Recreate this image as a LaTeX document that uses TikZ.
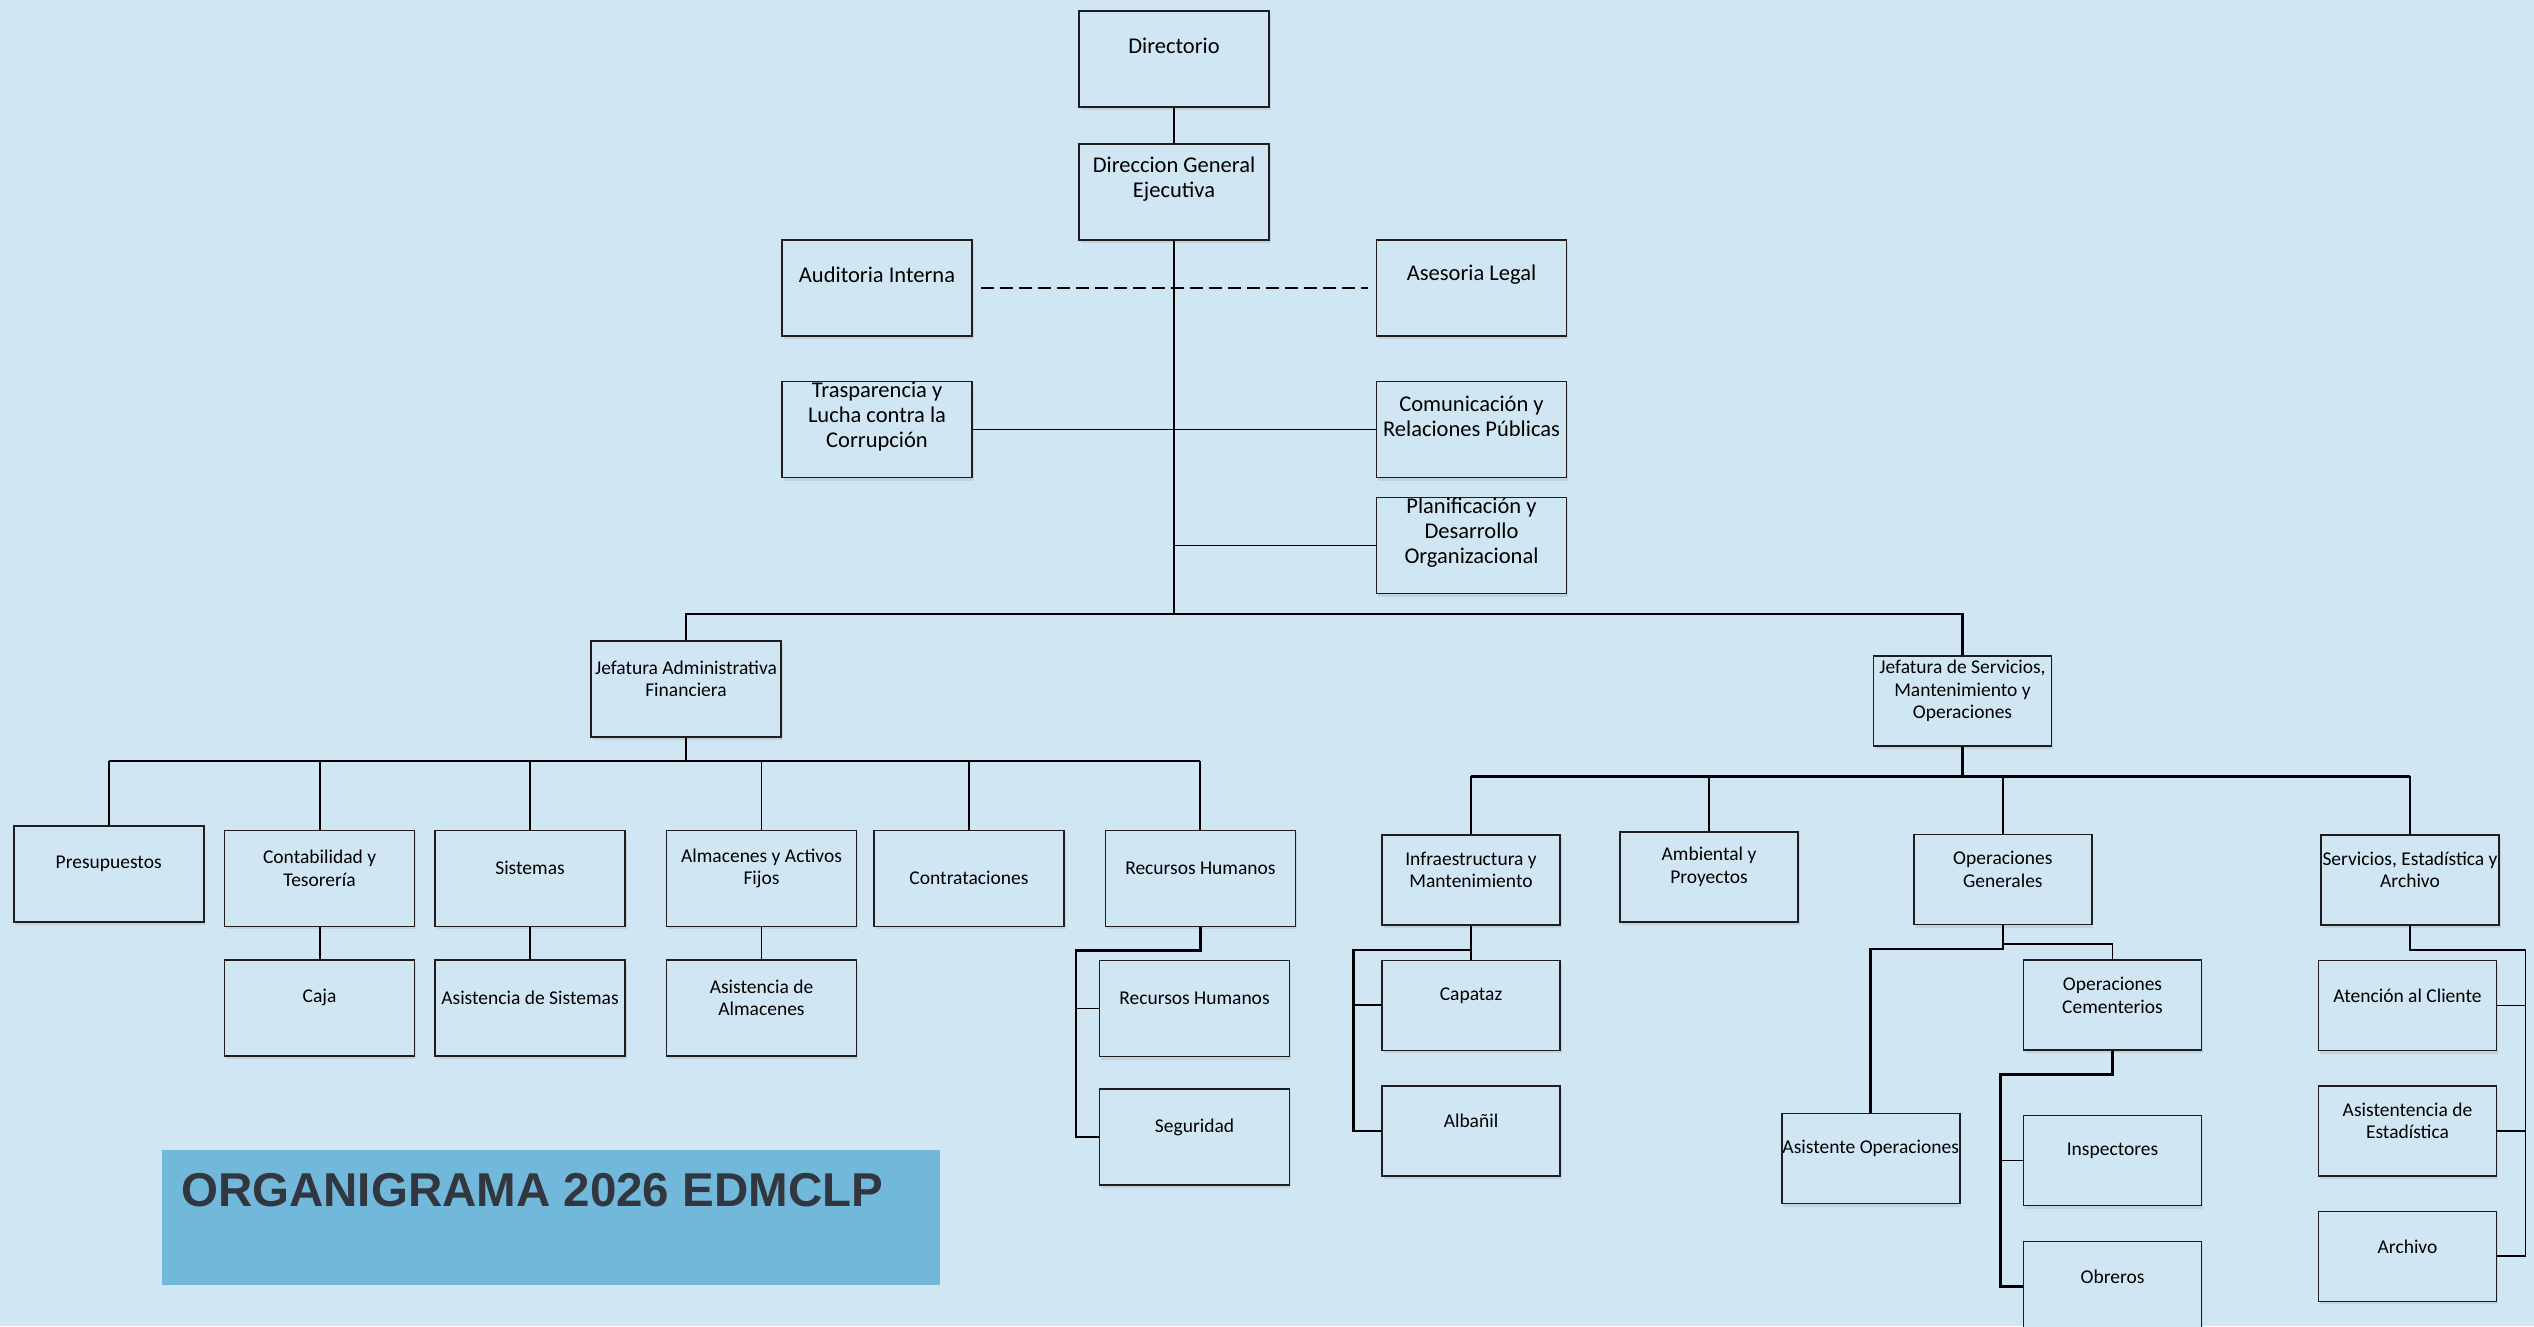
\documentclass[tikz,border=0pt]{standalone}
\usepackage{fontspec}
\setmainfont{Carlito}
\newfontfamily\bannerfont{Liberation Sans}
\usetikzlibrary{shadows}

\definecolor{paper}{HTML}{D0E7F3}
\definecolor{bannerblue}{HTML}{71B8DB}
\definecolor{bannerink}{HTML}{32373F}
\definecolor{boxline}{HTML}{1E1E1E}

\tikzset{
  unit/.style={draw=boxline, line width=1.6pt, fill=paper, inner sep=0pt,
    drop shadow={opacity=0.18, shadow xshift=1.5pt, shadow yshift=-3pt}},
  topbox/.style={unit, minimum width=190pt, minimum height=96pt},
  midbox/.style={unit, minimum width=190pt, minimum height=96pt},
  lowbox/.style={unit, minimum width=178pt, minimum height=90pt},
  boxtext/.style={align=center, inner sep=0pt, font=\fontsize{19.5}{22.5}\selectfont},
  toptext/.style={boxtext, font=\fontsize{22.5}{25}\selectfont},
  link/.style={draw=black, line width=1.9pt},
  bus/.style={draw=black, line width=2.6pt},
}

\begin{document}
\begin{tikzpicture}[x=1pt, y=-1pt]
\fill[paper] (0,0) rectangle (2534,1326);
\useasboundingbox (0,0) rectangle (2534,1326);

% direccion
\node[topbox] (dir) at (1174,59) {};
\node[toptext] (dir-t) at ([yshift=13pt]dir.center) {Directorio};
\node[topbox] (dge) at (1174,192) {};
\node[toptext] (dge-t) at ([yshift=13pt]dge.center) {Direccion General\\Ejecutiva};
\node[topbox] (aud) at (877,288) {};
\node[toptext] (aud-t) at ([yshift=13pt]aud.center) {Auditoria Interna};
\node[topbox] (ase) at (1471.5,288) {};
\node[toptext] (ase-t) at ([yshift=13pt]ase.center) {Asesoria Legal};
\node[topbox] (tra) at (877,429.5) {};
\node[toptext] (tra-t) at ([yshift=13pt]tra.center) {Trasparencia y\\Lucha contra la\\Corrupción};
\node[topbox] (com) at (1471.5,429.5) {};
\node[toptext] (com-t) at ([yshift=13pt]com.center) {Comunicación y\\Relaciones Públicas};
\node[topbox] (pla) at (1471.5,545.5) {};
\node[toptext] (pla-t) at ([yshift=13pt]pla.center) {Planificación y\\Desarrollo\\Organizacional};

% jefatura administrativa
\node[midbox] (jaf) at (686,689) {};
\node[boxtext] (jaf-t) at ([yshift=10pt]jaf.center) {Jefatura Administrativa\\Financiera};
\node[midbox] (pre) at (108.7,873.7) {};
\node[boxtext] (pre-t) at ([yshift=10pt]pre.center) {Presupuestos};
\node[midbox] (con) at (319.6,878.3) {};
\node[boxtext] (con-t) at ([yshift=10pt]con.center) {Contabilidad y\\Tesorería};
\node[midbox] (sis) at (530,878.3) {};
\node[boxtext] (sis-t) at ([yshift=10pt]sis.center) {Sistemas};
\node[midbox] (alm) at (761.5,878.3) {};
\node[boxtext] (alm-t) at ([yshift=10pt]alm.center) {Almacenes y Activos\\Fijos};
\node[midbox] (ctr) at (969,878.3) {};
\node[boxtext] (ctr-t) at (ctr.center) {Contrataciones};
\node[midbox] (rrh) at (1200.4,878.3) {};
\node[boxtext] (rrh-t) at ([yshift=10pt]rrh.center) {Recursos Humanos};
\node[midbox] (caj) at (319.6,1007.7) {};
\node[boxtext] (caj-t) at ([yshift=10pt]caj.center) {Caja};
\node[midbox] (asi) at (530,1007.7) {};
\node[boxtext] (asi-t) at ([yshift=10pt]asi.center) {Asistencia de Sistemas};
\node[midbox] (asa) at (761.5,1007.7) {};
\node[boxtext] (asa-t) at ([yshift=10pt]asa.center) {Asistencia de\\Almacenes};
\node[midbox] (rh2) at (1194.5,1008.5) {};
\node[boxtext] (rh2-t) at ([yshift=10pt]rh2.center) {Recursos Humanos};
\node[midbox] (seg) at (1194.5,1137) {};
\node[boxtext] (seg-t) at ([yshift=10pt]seg.center) {Seguridad};

% jefatura de servicios
\node[lowbox] (jsm) at (1962.5,701) {};
\node[boxtext] (jsm-t) at ([yshift=10pt]jsm.center) {Jefatura de Servicios,\\Mantenimiento y\\Operaciones};
\node[lowbox] (inf) at (1471,880) {};
\node[boxtext] (inf-t) at ([yshift=10pt]inf.center) {Infraestructura y\\Mantenimiento};
\node[lowbox] (amb) at (1709,876.7) {};
\node[boxtext] (amb-t) at ([yshift=10pt]amb.center) {Ambiental y\\Proyectos};
\node[lowbox] (opg) at (2002.8,879.5) {};
\node[boxtext] (opg-t) at ([yshift=10pt]opg.center) {Operaciones\\Generales};
\node[lowbox] (sea) at (2410,880) {};
\node[boxtext] (sea-t) at ([yshift=10pt]sea.center) {Servicios, Estadística y\\Archivo};
\node[lowbox] (cap) at (1471,1005.4) {};
\node[boxtext] (cap-t) at ([yshift=10pt]cap.center) {Capataz};
\node[lowbox] (alb) at (1471,1131) {};
\node[boxtext] (alb-t) at ([yshift=10pt]alb.center) {Albañil};
\node[lowbox] (aso) at (1870.7,1158.5) {};
\node[boxtext] (aso-t) at ([yshift=10pt]aso.center) {Asistente Operaciones};
\node[lowbox] (opc) at (2112.5,1005.2) {};
\node[boxtext] (opc-t) at ([yshift=10pt]opc.center) {Operaciones\\Cementerios};
\node[lowbox] (ins) at (2112.5,1160.5) {};
\node[boxtext] (ins-t) at ([yshift=10pt]ins.center) {Inspectores};
\node[lowbox] (obr) at (2112.5,1286.3) {};
\node[boxtext] (obr-t) at ([yshift=10pt]obr.center) {Obreros};
\node[lowbox] (ate) at (2407.5,1005.5) {};
\node[boxtext] (ate-t) at ([yshift=10pt]ate.center) {Atención al Cliente};
\node[lowbox] (aes) at (2407.5,1131) {};
\node[boxtext] (aes-t) at ([yshift=10pt]aes.center) {Asistentencia de\\Estadística};
\node[lowbox] (arc) at (2407.5,1256.4) {};
\node[boxtext] (arc-t) at ([yshift=10pt]arc.center) {Archivo};

% titulo
\node[fill=bannerblue, minimum width=778pt, minimum height=135pt, inner sep=0pt] (ban) at (551,1217.5) {};
\node[anchor=base west, inner sep=0pt, text=bannerink, font=\bannerfont\bfseries\fontsize{47.5}{50}\selectfont] (ban-t) at (181,1206) {ORGANIGRAMA 2026 EDMCLP};

% conectores
\coordinate (hub) at (1174,614);
\draw[link] (dir) -- (dge);
\draw[bus] (dge) -- (hub);
\draw[bus] (jaf.north) |- (hub) -| (jsm.north);
\draw[link, dash pattern=on 13pt off 6pt, shorten <=8pt, shorten >=8pt] (aud) -- (ase);
\draw[link] (tra) -- (com);
\draw[link] (pla) -- (pla -| hub);

\coordinate (adm) at (686,761);
\draw[bus] (jaf) -- (adm);
\draw[bus] (pre.north |- adm) -- (rrh.north |- adm);
\foreach \k in {pre,con,sis,alm,ctr,rrh}
  \draw[link] (\k.north |- adm) -- (\k.north);
\draw[link] (con) -- (caj);
\draw[link] (sis) -- (asi);
\draw[link] (alm) -- (asa);
\coordinate (rhk) at (1076,950.7);
\draw[bus] (rrh.south) |- (rhk) |- (seg.west);
\draw[link] (rhk |- rh2.west) -- (rh2.west);

\coordinate (srv) at (1962.5,776.3);
\draw[bus] (jsm) -- (srv);
\draw[bus] (inf.north |- srv) -- (sea.north |- srv);
\foreach \k in {inf,amb,opg,sea}
  \draw[link] (\k.north |- srv) -- (\k.north);
\coordinate (ink) at (1353.5,950);
\draw[link] (inf) -- (cap);
\draw[bus] (inf.south |- ink) -- (ink) |- (alb.west);
\draw[link] (ink |- cap.west) -- (cap.west);
\coordinate (ogl) at (1870.7,949);
\coordinate (ogr) at (2112.5,944);
\draw[bus] (opg.south) -- (opg.south |- ogl) -- (ogl) -- (aso.north);
\draw[link] (opg.south |- ogr) -- (ogr) -- (opc.north);
\coordinate (ock) at (2000.4,1074.3);
\draw[bus] (opc.south) |- (ock) |- (obr.west);
\draw[link] (ock |- ins.west) -- (ins.west);
\coordinate (sek) at (2525.5,949.7);
\draw[link] (sea.south) |- (sek) |- (arc.east);
\draw[link] (sek |- ate.east) -- (ate.east);
\draw[link] (sek |- aes.east) -- (aes.east);
\end{tikzpicture}
\end{document}
